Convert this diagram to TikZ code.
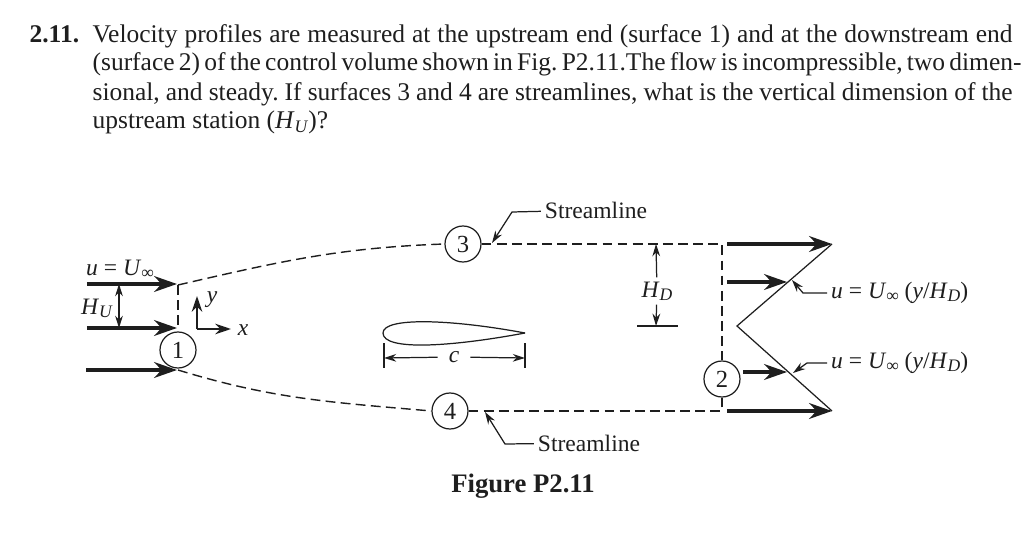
\documentclass[tikz,border=0pt]{standalone}
\usepackage{fontspec}
\setmainfont{Liberation Serif}
\usetikzlibrary{arrows.meta}
\definecolor{ink}{RGB}{30,30,30}
\tikzstyle{every path}=[line width=0.35pt, color=ink]
\tikzstyle{thickflow}=[line width=0.9pt, -{Stealth[length=6.5pt,width=4.5pt]}]
\tikzstyle{dimline}=[-{Stealth[length=3.5pt,width=2.2pt]}]
\tikzstyle{controlline}=[line width=0.4pt, dash pattern=on 2.8pt off 1.5pt]
\tikzstyle{station}=[draw, circle, inner sep=0pt, minimum size=0.36cm, font=\fontsize{7}{8}\selectfont]
\tikzstyle{figlabel}=[inner sep=0pt, outer sep=1.2pt, text=ink, font=\fontsize{6.7}{8}\selectfont]
\tikzstyle{problem}=[inner sep=0pt, anchor=base west, text=ink, font=\fontsize{7.25}{9}\selectfont]
\newcommand{\fullline}[1]{\makebox[9.2cm][s]{\frenchspacing #1}}
\newcommand{\lowtext}[1]{\raisebox{-0.3ex}{\fontsize{5}{5}\selectfont #1}}
\newcommand{\uinflow}{\textit{u} = \textit{U}\lowtext{∞}}
\newcommand{\lawtext}{\uinflow\ (\textit{y}/\textit{H}\lowtext{\textit{D}})}
\begin{document}
\begin{tikzpicture}
            \useasboundingbox (0, 0) rectangle (10.24, 5.45);

            \node[problem] (num) at (0.29, 5.03) {\textbf{2.11.}};
            \node[problem] (lineone) at (0.92, 5.03) {\fullline{Velocity profiles are measured at the upstream end (surface 1) and at the downstream end}};
            \node[problem] (linetwo) at (0.92, 4.74) {\fullline{(surface 2) of the control volume shown in Fig. P2.11.The flow is incompressible, two dimen-}};
            \node[problem] (linethree) at (0.92, 4.45) {\fullline{sional, and steady. If surfaces 3 and 4 are streamlines, what is the vertical dimension of the}};
            \node[problem] (linefour) at (0.92, 4.16) {upstream station (\textit{H}\lowtext{\textit{U}})?};

            \node[station] (one) at (1.78, 1.95) {1};
            \node[station] (two) at (7.22, 1.66) {2};
            \node[station] (three) at (4.63, 3.01) {3};
            \node[station] (four) at (4.50, 1.34) {4};

            \coordinate (topstart) at (0.87, 2.61);
            \coordinate (topend) at (1.77, 2.61);
            \coordinate (midstart) at (0.87, 2.17);
            \coordinate (midend) at (1.77, 2.17);
            \coordinate (lowstart) at (0.86, 1.75);
            \coordinate (lowend) at (1.77, 1.75);
            \draw [thickflow] (topstart) -- (topend);
            \draw [thickflow] (midstart) -- (midend);
            \draw [thickflow] (lowstart) -- (lowend);

            \coordinate (inlettop) at (1.78, 2.60);
            \coordinate (inletlow) at (1.78, 1.75);
            \coordinate (inletmid) at (1.78, 2.17);
            \draw [controlline] (inlettop) -- (inletmid);
            \draw [controlline] (inlettop) to[out=13, in=182] (three.west);
            \draw [controlline] (inletlow) to[out=-17, in=175] (four.west);

            \coordinate (corner) at (7.22, 3.01);
            \coordinate (cornerlow) at (7.22, 1.34);
            \draw [controlline] (three.east) -- (corner) -- (two.north);
            \draw [controlline] (four.east) -- (cornerlow) -- (two.south);

            \coordinate (hutop) at (1.19, 2.61);
            \coordinate (hulow) at (1.19, 2.17);
            \draw [{Stealth[length=3.5pt,width=2.2pt]}-{Stealth[length=3.5pt,width=2.2pt]}] (hutop) -- (hulow);
            \node[figlabel] (hu) at (0.97, 2.37) {\textit{H}\lowtext{\textit{U}}};
            \node[figlabel] (uinf) at (1.20, 2.76) {\uinflow};

            \coordinate (origin) at (1.97, 2.16);
            \coordinate (yaxis) at (1.97, 2.49);
            \coordinate (xaxis) at (2.31, 2.16);
            \draw [line width=0.55pt, -{Stealth[length=4.5pt,width=3pt]}] (origin) -- (yaxis);
            \draw [line width=0.55pt, -{Stealth[length=4.5pt,width=3pt]}] (origin) -- (xaxis);
            \node[figlabel] (ylabel) at (2.12, 2.45) {\textit{y}};
            \node[figlabel] (xlabel) at (2.43, 2.15) {\textit{x}};

            \coordinate (lead) at (3.83, 2.12);
            \coordinate (trail) at (5.25, 2.12);
            \draw (lead) .. controls (3.83, 2.28) and (4.50, 2.26) .. (trail);
            \draw (lead) .. controls (3.83, 1.94) and (4.50, 1.98) .. (trail);

            \coordinate (cleftup) at (3.84, 2.02);
            \coordinate (cleftlow) at (3.84, 1.77);
            \coordinate (crightup) at (5.25, 2.02);
            \coordinate (crightlow) at (5.25, 1.77);
            \draw (cleftup) -- (cleftlow);
            \draw (crightup) -- (crightlow);
            \node[figlabel, inner xsep=2pt] (chord) at (4.54, 1.88) {\textit{c}};
            \coordinate (cleft) at (3.84, 1.87);
            \coordinate (cright) at (5.25, 1.87);
            \draw [dimline] (chord) -- (cleft);
            \draw [dimline] (chord) -- (cright);

            \node[figlabel] (streamtop) at (5.96, 3.35) {Streamline};
            \node[figlabel] (streamlow) at (5.89, 1.02) {Streamline};
            \coordinate (streamtopbend) at (5.12, 3.33);
            \coordinate (streamtoptip) at (4.92, 3.02);
            \coordinate (streamlowbend) at (5.05, 1.01);
            \coordinate (streamlowtip) at (4.85, 1.33);
            \draw [dimline] (streamtop) -- (streamtopbend) -- (streamtoptip);
            \draw [dimline] (streamlow) -- (streamlowbend) -- (streamlowtip);

            \node[figlabel] (hd) at (6.57, 2.54) {\textit{H}\lowtext{\textit{D}}};
            \coordinate (hdtop) at (6.56, 3.01);
            \coordinate (hdlow) at (6.56, 2.19);
            \coordinate (tickleft) at (6.37, 2.19);
            \coordinate (tickright) at (6.78, 2.19);
            \draw [dimline] (hd) -- (hdtop);
            \draw [dimline] (hd) -- (hdlow);
            \draw (tickleft) -- (tickright);

            \coordinate (profiletop) at (8.32, 3.01);
            \coordinate (profilemid) at (7.37, 2.19);
            \coordinate (profilelow) at (8.32, 1.34);
            \draw (profiletop) -- (profilemid) -- (profilelow);

            \coordinate (outone) at (7.27, 3.01);
            \coordinate (outtwo) at (7.27, 2.63);
            \coordinate (outtwoend) at (7.87, 2.63);
            \coordinate (outthree) at (7.43, 1.73);
            \coordinate (outthreeend) at (7.87, 1.73);
            \coordinate (outfour) at (7.27, 1.34);
            \draw [thickflow] (outone) -- (profiletop);
            \draw [thickflow] (outtwo) -- (outtwoend);
            \draw [thickflow] (outthree) -- (outthreeend);
            \draw [thickflow] (outfour) -- (profilelow);

            \node[figlabel, anchor=west] (lawtop) at (8.27, 2.52) {\lawtext};
            \node[figlabel, anchor=west] (lawlow) at (8.27, 1.82) {\lawtext};
            \coordinate (lawtopbend) at (8.03, 2.52);
            \coordinate (lawtoptip) at (7.92, 2.65);
            \coordinate (lawlowbend) at (8.07, 1.82);
            \coordinate (lawlowtip) at (7.93, 1.72);
            \draw [dimline] (lawtop) -- (lawtopbend) -- (lawtoptip);
            \draw [dimline] (lawlow) -- (lawlowbend) -- (lawlowtip);

            \node[figlabel] (caption) at (5.23, 0.59) {\fontsize{7.6}{10}\selectfont\bfseries Figure P2.11};
        \end{tikzpicture}
\end{document}
